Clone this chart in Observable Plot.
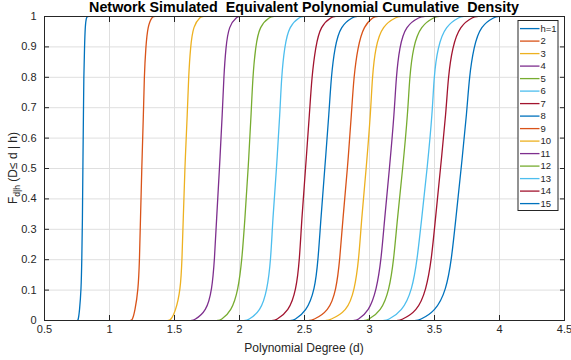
<!DOCTYPE html>
<html>
<head>
<meta charset="utf-8">
<script src="https://cdn.jsdelivr.net/npm/d3@7"></script>
<script src="https://cdn.jsdelivr.net/npm/@observablehq/plot@0.6"></script>
<style>
  html, body { margin: 0; padding: 0; background: #fff; }
  #chart { width: 571px; height: 360px; }
</style>
</head>
<body>
<div id="chart"></div>
<script>
// ---- data ----
const hLabels = ["h=1","2","3","4","5","6","7","8","9","10","11","12","13","14","15"];
// cumulative probability levels at which each curve's degree was read
// (first and last entries are where the curve runs along the 0 and 1 lines)
const levels = [0, 0, 0.03, 0.1, 0.2, 0.33, 0.5, 0.69, 0.8, 0.9, 0.97, 1, 1];
const h1  = [0.752, 0.759, 0.769, 0.782, 0.787, 0.792, 0.795, 0.800, 0.802, 0.808, 0.813, 0.823, 0.835];
const h2  = [1.160, 1.175, 1.195, 1.221, 1.231, 1.238, 1.248, 1.262, 1.267, 1.279, 1.295, 1.328, 1.345];
const h3  = [1.450, 1.469, 1.508, 1.546, 1.558, 1.567, 1.579, 1.600, 1.608, 1.623, 1.644, 1.700, 1.720];
const h4  = [1.630, 1.648, 1.746, 1.788, 1.808, 1.823, 1.846, 1.869, 1.879, 1.895, 1.918, 1.982, 2.000];
const h5  = [1.830, 1.854, 1.938, 1.990, 2.019, 2.041, 2.067, 2.091, 2.102, 2.123, 2.154, 2.238, 2.260];
const h6  = [2.040, 2.062, 2.162, 2.213, 2.241, 2.255, 2.285, 2.312, 2.323, 2.346, 2.382, 2.469, 2.490];
const h7  = [2.255, 2.277, 2.379, 2.436, 2.462, 2.478, 2.508, 2.540, 2.556, 2.585, 2.623, 2.713, 2.735];
const h8  = [2.395, 2.418, 2.515, 2.579, 2.605, 2.625, 2.656, 2.690, 2.705, 2.733, 2.777, 2.879, 2.900];
const h9  = [2.535, 2.559, 2.687, 2.744, 2.772, 2.794, 2.831, 2.863, 2.879, 2.910, 2.956, 3.033, 3.060];
const h10 = [2.665, 2.687, 2.828, 2.885, 2.918, 2.938, 2.975, 3.010, 3.021, 3.046, 3.098, 3.213, 3.240];
const h11 = [2.880, 2.905, 2.995, 3.054, 3.090, 3.115, 3.154, 3.192, 3.205, 3.231, 3.277, 3.392, 3.420];
const h12 = [2.960, 2.982, 3.090, 3.152, 3.187, 3.213, 3.256, 3.296, 3.308, 3.336, 3.392, 3.508, 3.530];
const h13 = [3.110, 3.136, 3.252, 3.328, 3.367, 3.400, 3.444, 3.485, 3.495, 3.525, 3.585, 3.700, 3.720];
const h14 = [3.215, 3.238, 3.367, 3.436, 3.477, 3.506, 3.546, 3.590, 3.605, 3.638, 3.695, 3.802, 3.830];
const h15 = [3.355, 3.379, 3.508, 3.590, 3.631, 3.663, 3.705, 3.750, 3.767, 3.802, 3.854, 3.969, 3.990];
const xTicks = [0.5, 1, 1.5, 2, 2.5, 3, 3.5, 4, 4.5];
const yTicks = [0, 0.1, 0.2, 0.3, 0.4, 0.5, 0.6, 0.7, 0.8, 0.9, 1];

// MATLAB default colour order
const palette = ["#0072BD","#D95319","#EDB120","#7E2F8E","#77AC30","#4DBEEE","#A2142F"];
const colors = hLabels.map((_, i) => palette[i % palette.length]);

const series = [h1,h2,h3,h4,h5,h6,h7,h8,h9,h10,h11,h12,h13,h14,h15];
const rows = [];
series.forEach((arr, i) => {
  arr.forEach((d, j) => rows.push({series: hLabels[i], F: levels[j], d}));
});

const axisColor = "#262626";
const gridColor = "#dfdfdf";
const fmt = d => String(d);

const chart = Plot.plot({
  width: 571,
  height: 360,
  marginLeft: 44,
  marginRight: 7,
  marginTop: 16,
  marginBottom: 40,
  style: {fontFamily: "'Liberation Sans', Arial, Helvetica, sans-serif", fontSize: "11px", color: axisColor, background: "#fff"},
  x: {domain: [0.5, 4.5]},
  y: {domain: [0, 1]},
  color: {domain: hLabels, range: colors},
  marks: [
    Plot.gridX(xTicks, {stroke: gridColor, strokeOpacity: 1, strokeWidth: 1}),
    Plot.gridY(yTicks, {stroke: gridColor, strokeOpacity: 1, strokeWidth: 1}),
    Plot.line(rows, {x: "d", y: "F", z: "series", stroke: "series", curve: "basis", strokeWidth: 1.3, clip: true}),
    // inward ticks on all four sides
    Plot.axisX(xTicks, {anchor: "bottom", tickSize: 5, dy: -5, tickFormat: () => "", label: null, stroke: axisColor}),
    Plot.axisX(xTicks, {anchor: "top", tickSize: 5, dy: 5, tickFormat: () => "", label: null, stroke: axisColor}),
    Plot.axisY(yTicks, {anchor: "left", tickSize: 5, dx: 5, tickFormat: () => "", label: null, stroke: axisColor}),
    Plot.axisY(yTicks, {anchor: "right", tickSize: 5, dx: -5, tickFormat: () => "", label: null, stroke: axisColor}),
    // tick labels
    Plot.axisX(xTicks, {anchor: "bottom", tickSize: 0, tickPadding: 5, tickFormat: fmt, label: null, fill: axisColor, fontSize: 11}),
    Plot.axisY(yTicks, {anchor: "left", tickSize: 0, tickPadding: 8, tickFormat: fmt, label: null, fill: axisColor, fontSize: 11}),
    Plot.frame({stroke: axisColor, strokeWidth: 1})
  ]
});

document.getElementById("chart").appendChild(chart);

const svg = d3.select(chart);
const font = "'Liberation Sans', Arial, Helvetica, sans-serif";

// title
svg.append("text")
  .attr("x", 304).attr("y", 12)
  .attr("text-anchor", "middle")
  .attr("font-family", font).attr("font-size", 14.3).attr("font-weight", "bold")
  .attr("fill", "#000")
  .style("white-space", "pre")
  .text("Network Simulated  Equivalent Polynomial Cumulative  Density");

// x label
svg.append("text")
  .attr("x", 304).attr("y", 352)
  .attr("text-anchor", "middle")
  .attr("font-family", font).attr("font-size", 12)
  .attr("fill", axisColor)
  .text("Polynomial Degree (d)");

// y label with subscript
const yl = svg.append("text")
  .attr("transform", "translate(16.5,168) rotate(-90)")
  .attr("text-anchor", "middle")
  .attr("font-family", font).attr("font-size", 12)
  .attr("fill", axisColor)
  .style("white-space", "pre");
yl.append("tspan").text("F");
yl.append("tspan").attr("font-size", 8.5).attr("dy", 3).text("d|h");
yl.append("tspan").attr("dy", -3).text(" (D\u2264 d | h)");

// legend
const lg = svg.append("g");
lg.append("rect")
  .attr("x", 518).attr("y", 20.5).attr("width", 40).attr("height", 190)
  .attr("fill", "#fff").attr("stroke", axisColor).attr("stroke-width", 1);
hLabels.forEach((lab, i) => {
  const y = 28.6 + i * 12.5;
  lg.append("line")
    .attr("x1", 520).attr("x2", 539.5).attr("y1", y).attr("y2", y)
    .attr("stroke", colors[i]).attr("stroke-width", 1.3);
  lg.append("text")
    .attr("x", 540.5).attr("y", y).attr("dy", "0.35em")
    .attr("text-anchor", "start")
    .attr("font-family", font).attr("font-size", 9.5)
    .attr("fill", axisColor)
    .text(lab);
});
</script>
</body>
</html>
